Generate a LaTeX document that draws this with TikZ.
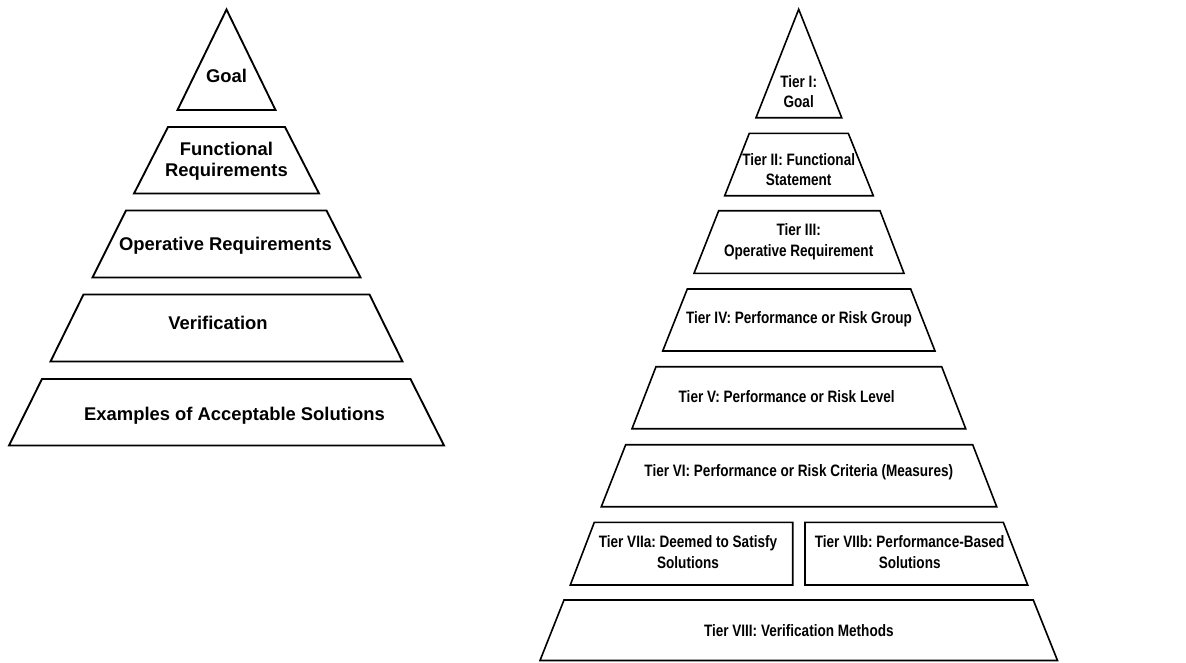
\documentclass[tikz,border=0pt]{standalone}
\usepackage{fontspec}
\setmainfont{Liberation Sans}
\newfontfamily\narrowfont[FakeStretch=0.82]{Liberation Sans}
\frenchspacing

\tikzset{
  layer/.style={draw=black, line width=1.4pt, line join=miter},
  thinlayer/.style={draw=black, line width=1.2pt, line join=miter},
  leftlabel/.style={font=\bfseries\fontsize{13.8}{15.75}\selectfont, align=center, inner sep=0pt},
  rightlabel/.style={font=\narrowfont\bfseries\fontsize{12.4}{15.4}\selectfont, align=center, inner sep=0pt}
}

\begin{document}
\begin{tikzpicture}[x=0.75pt,y=-0.75pt]
\useasboundingbox (0,0) rectangle (1186,662);

% left pyramid
\draw[layer] (226.5,9.5) -- (275.5,110) -- (177.5,110) -- cycle;
\draw[layer] (168,127) -- (285,127) -- (319,193.5) -- (134,193.5) -- cycle;
\draw[layer] (126,210.5) -- (326.5,210.5) -- (360.5,277.5) -- (92.5,277.5) -- cycle;
\draw[layer] (83.5,294.5) -- (369.5,294.5) -- (402.5,361.5) -- (50.5,361.5) -- cycle;
\draw[layer] (42,379) -- (410.5,379) -- (444,445.5) -- (9,445.5) -- cycle;

\node[leftlabel] (Goal) at (226.5,76) {Goal};
\node[leftlabel] (Functional) at (226.5,161.5) {Functional\\Requirements};
\node[leftlabel] (Operative) at (225.5,246) {Operative Requirements};
\node[leftlabel] (Verification) at (218,323) {Verification};
\node[leftlabel] (Examples) at (234.5,415.5) {Examples of Acceptable Solutions};

% right pyramid
\draw[thinlayer] (798.7,9.3) -- (841.7,117.7) -- (756,117.7) -- cycle;
\draw[thinlayer] (749.3,133.3) -- (848.3,133.3) -- (873.3,195.7) -- (724.7,195.7) -- cycle;
\draw[thinlayer] (718.7,210.7) -- (880,210.7) -- (904,273.3) -- (694,273.3) -- cycle;
\draw[thinlayer] (687.3,289) -- (910.7,289) -- (935,351) -- (662.7,351) -- cycle;
\draw[thinlayer] (656,366.7) -- (941.7,366.7) -- (965.7,428.7) -- (632,428.7) -- cycle;
\draw[thinlayer] (625.7,444.7) -- (972.7,444.7) -- (996.7,506.7) -- (601.3,506.7) -- cycle;
\draw[thinlayer] (594.3,522.3) -- (792.7,522.3) -- (792.7,585) -- (570.3,585) -- cycle;
\draw[thinlayer] (805,522.3) -- (1003.3,522.3) -- (1027.7,585) -- (805,585) -- cycle;
\draw[thinlayer] (564,600) -- (1033.3,600) -- (1057.5,660.5) -- (540,660.5) -- cycle;

\node[rightlabel] (TierOne) at (798.7,91.5) {Tier I:\\Goal};
\node[rightlabel] (TierTwo) at (798.7,169.7) {Tier II: Functional\\Statement};
\node[rightlabel] (TierThree) at (798.7,241.7) {Tier III:\\Operative Requirement};
\node[rightlabel] (TierFour) at (799,319) {Tier IV: Performance or Risk Group};
\node[rightlabel] (TierFive) at (786.7,396.7) {Tier V: Performance or Risk Level};
\node[rightlabel] (TierSix) at (798.8,472.7) {Tier VI: Performance or Risk Criteria (Measures)};
\node[rightlabel] (TierSevenA) at (688,552.3) {Tier VIIa: Deemed to Satisfy\\Solutions};
\node[rightlabel] (TierSevenB) at (909.7,552.3) {Tier VIIb: Performance-Based\\Solutions};
\node[rightlabel] (TierEight) at (798.8,631) {Tier VIII: Verification Methods};
\end{tikzpicture}
\end{document}
